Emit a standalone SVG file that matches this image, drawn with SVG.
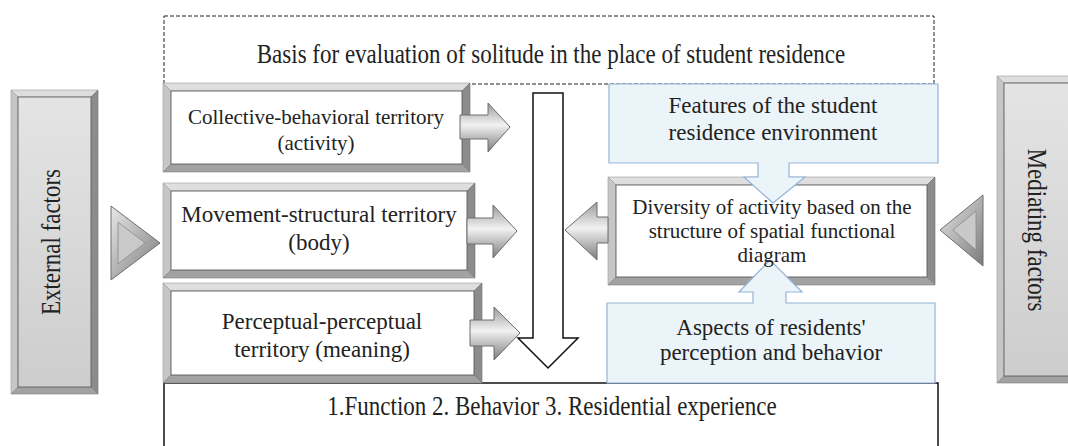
<svg xmlns="http://www.w3.org/2000/svg" width="1068" height="446" viewBox="0 0 1068 446">
<defs>
<linearGradient id="arrG" x1="0" y1="0" x2="0" y2="1">
<stop offset="0" stop-color="#9a9a9a"/><stop offset="0.45" stop-color="#f2f2f2"/><stop offset="1" stop-color="#7c7c7c"/>
</linearGradient>
<linearGradient id="triG" x1="0" y1="0" x2="1" y2="1">
<stop offset="0" stop-color="#e8e8e8"/><stop offset="1" stop-color="#7a7a7a"/>
</linearGradient>
<linearGradient id="grayIn" x1="0" y1="0" x2="0" y2="1">
<stop offset="0" stop-color="#e4e4e4"/><stop offset="1" stop-color="#cdcdcd"/>
</linearGradient>
<style>
.bt{fill:#dedede;stroke:#9a9a9a;stroke-width:.6}
.bl{fill:#c6c6c6;stroke:#9a9a9a;stroke-width:.6}
.br{fill:#8c8c8c;stroke:#707070;stroke-width:.6}
.bb{fill:#a2a2a2;stroke:#808080;stroke-width:.6}
.inW{fill:#ffffff;stroke:#6a6a6a;stroke-width:1}
.inG{fill:url(#grayIn);stroke:#6a6a6a;stroke-width:1}
.arr{fill:url(#arrG);stroke:#6e6e6e;stroke-width:1}
.tri{fill:url(#triG);stroke:#6e6e6e;stroke-width:1}
.triIn{fill:#c9c9c9;stroke:#8a8a8a;stroke-width:.8}
.blue{fill:#ebf4f8;stroke:#95b3d7;stroke-width:1.2}
text{font-family:"Liberation Serif",serif;fill:#222;text-anchor:middle}
.t23{font-size:23px}
.t21{font-size:21px}
</style>
</defs>

<g id="basis">
<rect x="164" y="16" width="770" height="68" fill="none" stroke="#222" stroke-width="1" stroke-dasharray="4,2"/>
<text class="t23" transform="translate(551,63) scale(1,1.15)">Basis for evaluation of solitude in the place of student residence</text>
</g>

<g id="outcome">
<rect x="164" y="383" width="774" height="90" fill="#fff" stroke="#111" stroke-width="1.5"/>
<text class="t23" transform="translate(552,415) scale(1,1.15)">1.Function 2. Behavior 3. Residential experience</text>
</g>

<g id="external">
<polygon class="bt" points="11,90 98,90 91,97 18,97"/>
<polygon class="bl" points="11,90 18,97 18,387 11,394"/>
<polygon class="br" points="98,90 98,394 91,387 91,97"/>
<polygon class="bb" points="11,394 18,387 91,387 98,394"/>
<rect class="inG" x="18" y="97" width="73" height="290"/>
<text class="t23" transform="translate(60,242) rotate(-90) scale(1,1.15)">External factors</text>
</g>

<g id="mediating">
<polygon class="bt" points="997,76 1075,76 1068,83 1004,83"/>
<polygon class="bl" points="997,76 1004,83 1004,376 997,383"/>
<polygon class="bb" points="997,383 1004,376 1068,376 1075,383"/>
<rect class="inG" x="1004" y="83" width="70" height="293"/>
<text class="t23" transform="translate(1028,230) rotate(90) scale(1,1.15)">Mediating factors</text>
</g>

<g id="b1">
<polygon class="bt" points="163,83 470,83 462,91 171,91"/>
<polygon class="bl" points="163,83 171,91 171,164 163,172"/>
<polygon class="br" points="470,83 470,172 462,164 462,91"/>
<polygon class="bb" points="163,172 171,164 462,164 470,172"/>
<rect class="inW" x="171" y="91" width="291" height="73"/>
<text class="t21" x="316" y="124">Collective-behavioral territory</text>
<text class="t21" x="316" y="150">(activity)</text>
</g>

<g id="b2">
<polygon class="bt" points="163,183 475,183 467,191 171,191"/>
<polygon class="bl" points="163,183 171,191 171,270 163,278"/>
<polygon class="br" points="475,183 475,278 467,270 467,191"/>
<polygon class="bb" points="163,278 171,270 467,270 475,278"/>
<rect class="inW" x="171" y="191" width="296" height="79"/>
<text class="t23" x="319" y="222">Movement-structural territory</text>
<text class="t23" x="319" y="250">(body)</text>
</g>

<g id="b3">
<polygon class="bt" points="163,283 482,283 474,291 171,291"/>
<polygon class="bl" points="163,283 171,291 171,375 163,383"/>
<polygon class="br" points="482,283 482,383 474,375 474,291"/>
<polygon class="bb" points="163,383 171,375 474,375 482,383"/>
<rect class="inW" x="171" y="291" width="303" height="84"/>
<text class="t23" x="322" y="329">Perceptual-perceptual</text>
<text class="t23" x="322" y="357">territory (meaning)</text>
</g>

<g id="diversity">
<polygon class="bt" points="608,177 935,177 927,185 616,185"/>
<polygon class="bl" points="608,177 616,185 616,277 608,285"/>
<polygon class="br" points="935,177 935,285 927,277 927,185"/>
<polygon class="bb" points="608,285 616,277 927,277 935,285"/>
<rect class="inW" x="616" y="185" width="311" height="92"/>
</g>

<g id="features">
<path class="blue" d="M609,84 H938 V163 H789 V177 H805 L773,203 L744,177 H758 V163 H609 Z"/>
<text class="t23" x="773" y="113">Features of the student</text>
<text class="t23" x="773" y="140">residence environment</text>
</g>

<g id="aspects">
<path class="blue" d="M607,303 H753 V292 H739 L770,260 L802,292 H786 V303 H935 V383 H607 Z"/>
<text class="t23" x="771" y="335">Aspects of residents'</text>
<text class="t23" x="771" y="360">perception and behavior</text>
</g>

<g id="diversity-label">
<text class="t21" x="772" y="214">Diversity of activity based on the</text>
<text class="t21" x="772" y="238">structure of spatial functional</text>
<text class="t21" x="772" y="262">diagram</text>
</g>

<g id="connectors">
<polygon class="tri" points="111,206 160,243 111,280"/>
<polygon class="triIn" points="118,222 145,243 118,264"/>
<polygon class="tri" points="983,195 940,230 983,266"/>
<polygon class="triIn" points="976,211 953,230 976,250"/>
<polygon class="arr" points="460,115 488,115 488,103 510,127 488,152 488,139 460,139"/>
<polygon class="arr" points="467,218 493,218 493,205 517,231 493,258 493,244 467,244"/>
<polygon class="arr" points="470,320 494,320 494,307 520,333 494,360 494,346 470,346"/>
<polygon class="arr" points="608,217 597,217 597,202 565,230 597,260 597,243 608,243"/>
<path d="M533,93 H563 V338 H578 L548,368 L518,338 H533 Z" fill="#fff" stroke="#111" stroke-width="1.5"/>
</g>
</svg>
